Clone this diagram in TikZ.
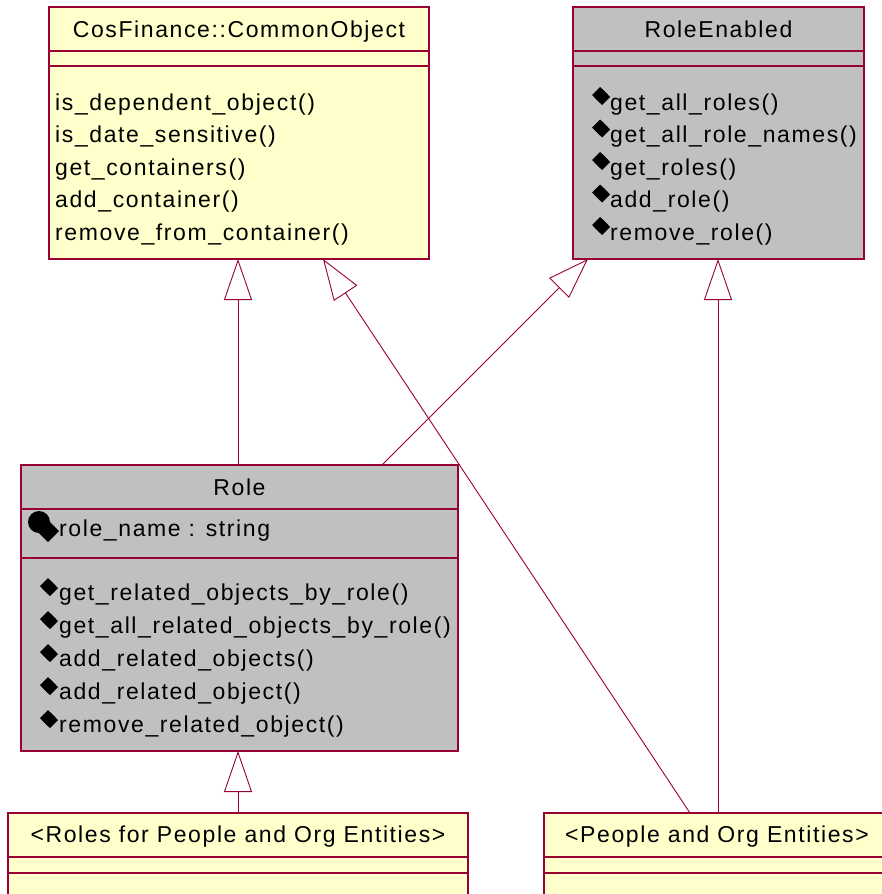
\documentclass[tikz,border=0pt]{standalone}
\usepackage{fontspec}
\setmainfont{Liberation Sans}[LetterSpace=7]
\usetikzlibrary{arrows.meta}

\definecolor{umlborder}{RGB}{153,0,51}
\definecolor{umlyellow}{RGB}{255,255,204}
\definecolor{umlgrey}{RGB}{192,192,192}

\tikzset{
  classbox/.style={draw=umlborder, line width=1.6pt, rectangle, inner sep=0pt,
    outer sep=0pt, anchor=north west},
  yellowbox/.style={classbox, fill=umlyellow},
  greybox/.style={classbox, fill=umlgrey},
  compart/.style={draw=umlborder, line width=1.2pt},
  umltext/.style={inner sep=0pt, text=black, font=\fontsize{23}{27}\selectfont},
  member/.style={umltext, anchor=base west},
  classname/.style={umltext, anchor=base},
  gen/.style={draw=umlborder, line width=0.9pt,
    -{Triangle[open, length=41pt, width=28pt, fill=white, line width=0.9pt]}},
  opdiamond/.pic={
    \fill[black] (-8,0) -- (0,-8) -- (8,0) -- (0,8) -- cycle;
    \fill[black] (-6,2) -- (2,-6) -- (10,2) -- (2,10) -- cycle;
  },
  attrmark/.pic={
    \fill[black] (0,0) circle (11);
    \fill[black] (-2,9) -- (9,-2) -- (20,9) -- (9,20) -- cycle;
  }
}

\begin{document}
\begin{tikzpicture}[x=1pt, y=-1pt]
  \useasboundingbox (0,0) rectangle (882,894);
  \clip (0,0) rectangle (882,894);
  \fill[white] (0,0) rectangle (882,894);

  % ---------- CosFinance::CommonObject ----------
  \node[yellowbox, minimum width=380pt, minimum height=252pt] (co) at (49,7) {};
  \draw[compart] (49,51) -- (429,51);
  \draw[compart] (49,66) -- (429,66);
  \node[classname] (coname) at (239,37) {CosFinance::CommonObject};
  \node[member] (co1) at (55,110) {is\_dependent\_object()};
  \node[member] (co2) at (55,142.5) {is\_date\_sensitive()};
  \node[member] (co3) at (55,175) {get\_containers()};
  \node[member] (co4) at (55,207.5) {add\_container()};
  \node[member] (co5) at (55,240) {remove\_from\_container()};

  % ---------- RoleEnabled ----------
  \node[greybox, minimum width=291pt, minimum height=252pt] (re) at (573,7) {};
  \draw[compart] (573,51) -- (864,51);
  \draw[compart] (573,66) -- (864,66);
  \node[classname] (rename) at (718.5,37) {RoleEnabled};
  \pic at (600,95) {opdiamond};
  \node[member] (re1) at (610,110) {get\_all\_roles()};
  \pic at (600,127.5) {opdiamond};
  \node[member] (re2) at (610,142.5) {get\_all\_role\_names()};
  \pic at (600,160) {opdiamond};
  \node[member] (re3) at (610,175) {get\_roles()};
  \pic at (600,192.5) {opdiamond};
  \node[member] (re4) at (610,207.5) {add\_role()};
  \pic at (600,225) {opdiamond};
  \node[member] (re5) at (610,240) {remove\_role()};

  % ---------- Role ----------
  \node[greybox, minimum width=437pt, minimum height=286pt] (role) at (21,465) {};
  \draw[compart] (21,509) -- (458,509);
  \draw[compart] (21,558) -- (458,558);
  \node[classname] (rolename) at (239.5,495) {Role};
  \pic at (39,522) {attrmark};
  \node[member] (ra1) at (59,536) {role\_name : string};
  \pic at (48,586) {opdiamond};
  \node[member] (ro1) at (59,600) {get\_related\_objects\_by\_role()};
  \pic at (48,619) {opdiamond};
  \node[member] (ro2) at (59,633) {get\_all\_related\_objects\_by\_role()};
  \pic at (48,652) {opdiamond};
  \node[member] (ro3) at (59,666) {add\_related\_objects()};
  \pic at (48,685) {opdiamond};
  \node[member] (ro4) at (59,699) {add\_related\_object()};
  \pic at (48,718) {opdiamond};
  \node[member] (ro5) at (59,732) {remove\_related\_object()};

  % ---------- <Roles for People and Org Entities> ----------
  \node[yellowbox, minimum width=460pt, minimum height=140pt] (rolesfor) at (8,813) {};
  \draw[compart] (8,857) -- (468,857);
  \draw[compart] (8,873) -- (468,873);
  \node[classname] (rfname) at (238,842) {<Roles for People and Org Entities>};

  % ---------- <People and Org Entities> ----------
  \node[yellowbox, minimum width=346pt, minimum height=140pt] (people) at (544,813) {};
  \draw[compart] (544,857) -- (890,857);
  \draw[compart] (544,873) -- (890,873);
  \node[classname] (pname) at (717,842) {<People and Org Entities>};

  % ---------- generalizations ----------
  \draw[gen] (role.north -| 238,0) -- (co.south -| 238,0);
  \draw[gen] (people.north -| 690,0) -- (co.south -| 323,0);
  \draw[gen] (role.north -| 382,0) -- (re.south -| 588,0);
  \draw[gen] (people.north -| 718,0) -- (re.south -| 718,0);
  \draw[gen] (rolesfor.north -| 238,0) -- (role.south -| 238,0);
\end{tikzpicture}
\end{document}
